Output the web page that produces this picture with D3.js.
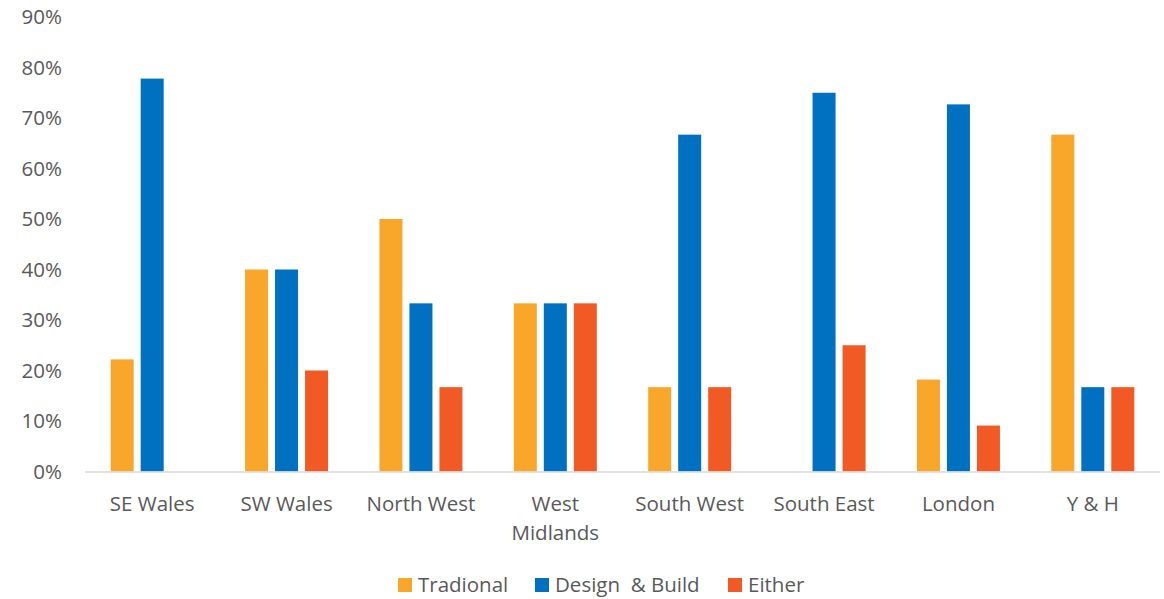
<!DOCTYPE html>
<html><head><meta charset="utf-8">
<script src="https://cdn.jsdelivr.net/npm/d3@7"></script>
<style>body{margin:0;background:#fff}text{font-family:"Open Sans",sans-serif;fill:#595959}</style>
</head><body><svg id="c" width="1164" height="599"></svg>
<script>
const categories = ["SE Wales","SW Wales","North West","West\nMidlands","South West","South East","London","Y & H"];
const seriesNames = ["Tradional","Design  & Build","Either"];
const traditional = [22.2,40,50,33.3,16.7,0,18.2,66.7];
const designBuild = [77.8,40,33.3,33.3,66.7,75,72.7,16.7];
const either = [0,20,16.7,33.3,16.7,25,9.1,16.7];
const yTicks = [0,10,20,30,40,50,60,70,80,90];
const colors = ["#F9A72B","#0070C0","#F15A24"];

(function(){
const series = [traditional, designBuild, either];
const svg = d3.select("#c");
const mLeft = 85, mRight = 1160, mTop = 17, mBottom = 471.5;
const fs = "20.5px";
const x = d3.scaleBand().domain(categories).range([mLeft,mRight]).paddingInner(0).paddingOuter(0);
const y = d3.scaleLinear().domain([0,90]).range([mBottom, mTop]);
const barW = 23, gap = 7;

svg.append("g").selectAll("text").data(yTicks).join("text")
  .attr("x", 62).attr("y", d=>y(d)).attr("dy","0.35em").attr("text-anchor","end")
  .style("font-size",fs).text(d=>d+"%");

series.forEach((vals, si) => {
  svg.append("g").selectAll("rect").data(vals).join("rect")
    .attr("x", (d,i)=> x(categories[i]) + x.bandwidth()/2 - (3*barW+2*gap)/2 + si*(barW+gap))
    .attr("y", d=>y(d)).attr("width", barW).attr("height", d=>mBottom-y(d))
    .attr("fill", colors[si]);
});

svg.append("line").attr("x1",mLeft).attr("x2",mRight).attr("y1",mBottom+0.5).attr("y2",mBottom+0.5)
  .attr("stroke","#d9d9d9").attr("stroke-width",1.5);

const xl = svg.append("g").selectAll("text").data(categories).join("text")
  .attr("y", 504).attr("text-anchor","middle").style("font-size",fs);
xl.each(function(d){
  const parts = d.split("\n");
  d3.select(this).selectAll("tspan").data(parts).join("tspan")
    .attr("x", x(d)+x.bandwidth()/2).attr("dy",(p,i)=>i===0?"0.35em":"29px").text(p=>p);
});

const legX = [398, 535, 728];
seriesNames.forEach((n,i)=>{
  svg.append("rect").attr("x",legX[i]).attr("y",578).attr("width",14).attr("height",14).attr("fill",colors[i]);
  svg.append("text").attr("x",legX[i]+20).attr("y",585).attr("dy","0.35em").style("font-size",fs).style("white-space","pre").text(n);
});
})();
</script></body></html>
